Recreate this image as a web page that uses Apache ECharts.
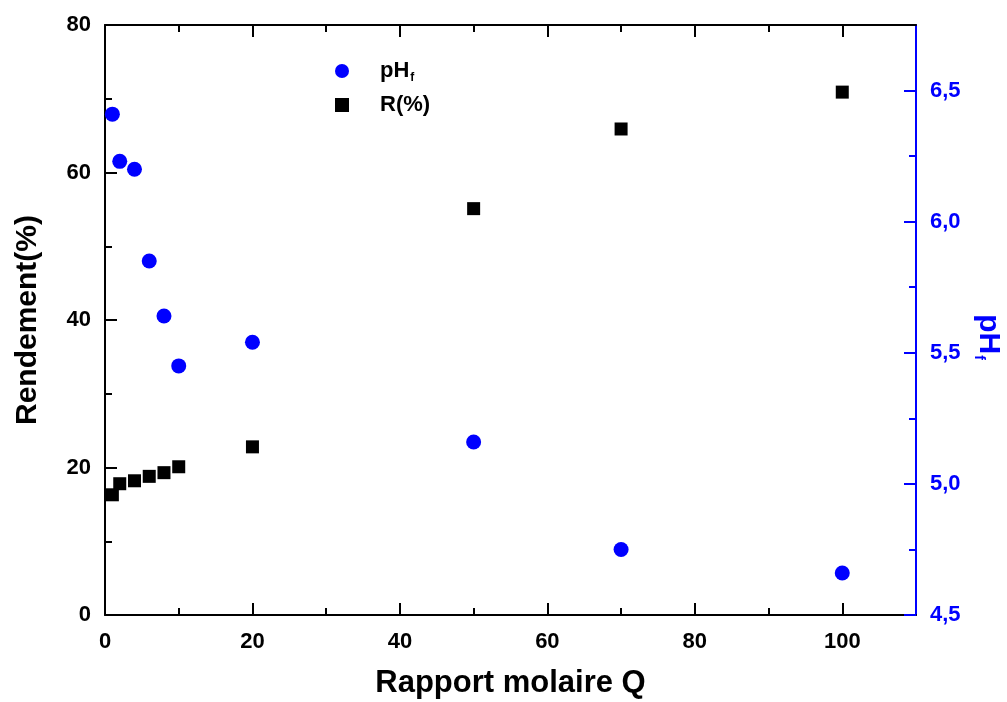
<!DOCTYPE html>
<html>
<head>
<meta charset="utf-8">
<script src="https://cdn.jsdelivr.net/npm/echarts@6/dist/echarts.min.js"></script>
<style>html,body{margin:0;padding:0;background:#fff;}#chart{width:1007px;height:702px;}</style>
</head>
<body>
<div id="chart"></div>
<script>
const qValues = [1, 2, 4, 6, 8, 10, 20, 50, 70, 100];
const phValues = [6.41, 6.23, 6.20, 5.85, 5.64, 5.45, 5.54, 5.16, 4.75, 4.66];
const rValues = [16.3, 17.8, 18.2, 18.8, 19.3, 20.1, 22.8, 55.1, 65.9, 70.9];

const xMajorTicks = [0, 20, 40, 60, 80, 100];
const xMinorTicks = [10, 30, 50, 70, 90];
const yLeftMajorTicks = [0, 20, 40, 60, 80];
const yLeftMinorTicks = [10, 30, 50, 70];
const yRightMajorTicks = [4.5, 5.0, 5.5, 6.0, 6.5];
const yRightMinorTicks = [4.75, 5.25, 5.75, 6.25];

const FONT = 'Liberation Sans, Arial, sans-serif';
const BLUE = '#0000ff';

const chart = echarts.init(document.getElementById('chart'), null, {renderer: 'canvas'});

function mkX(position, ticks, len, showLine, showLabel, extra) {
  return Object.assign({
    type: 'value', gridIndex: 0, position: position, offset: 0,
    min: 0, max: 110,
    axisLine: {show: showLine, onZero: false, lineStyle: {color: '#000', width: 2}},
    axisTick: {show: true, inside: true, length: len, customValues: ticks, lineStyle: {color: '#000', width: 2}},
    axisLabel: {show: showLabel, customValues: xMajorTicks, margin: 16, color: '#000', fontSize: 22, fontWeight: 'bold', fontFamily: FONT},
    splitLine: {show: false}
  }, extra || {});
}
function mkY(position, min, max, ticks, labelTicks, len, color, showLine, showLabel, fmt, extra) {
  return Object.assign({
    type: 'value', gridIndex: 0, position: position, offset: 0,
    min: min, max: max,
    axisLine: {show: showLine, onZero: false, lineStyle: {color: color, width: 2}},
    axisTick: {show: true, inside: true, length: len, customValues: ticks, lineStyle: {color: color, width: 2}},
    axisLabel: {show: showLabel, customValues: labelTicks, margin: 14, color: color, fontSize: 22, fontWeight: 'bold', fontFamily: FONT, formatter: fmt},
    splitLine: {show: false}
  }, extra || {});
}

const option = {
  animation: false,
  backgroundColor: '#fff',
  grid: {left: 105, right: 91, top: 25, bottom: 87, containLabel: false, outerBoundsMode: 'none'},
  legend: {
    orient: 'vertical', left: 330, top: 55,
    itemWidth: 14, itemHeight: 14, itemGap: 10,
    data: ['pH', 'R(%)'],
    formatter: function (n) { return n === 'pH' ? '{a|pH}{b|f}' : '{a|R(%)}'; },
    textStyle: {
      fontSize: 22, fontWeight: 'bold', fontFamily: FONT, color: '#000', padding: [0, 0, 0, 26],
      rich: {
        a: {fontSize: 22, fontWeight: 'bold', fontFamily: FONT, color: '#000'},
        b: {fontSize: 12, fontWeight: 'bold', fontFamily: FONT, color: '#000', verticalAlign: 'bottom', padding: [0, 0, -2, 1]}
      }
    }
  },
  xAxis: [
    mkX('bottom', xMajorTicks, 12, true, true, {
      name: 'Rapport molaire Q', nameLocation: 'middle', nameGap: 53,
      nameTextStyle: {fontSize: 31, fontWeight: 'bold', fontFamily: FONT, color: '#000'}
    }),
    mkX('bottom', xMinorTicks, 7, false, false),
    mkX('top', xMajorTicks, 12, true, false),
    mkX('top', xMinorTicks, 7, false, false)
  ],
  yAxis: [
    mkY('left', 0, 80, yLeftMajorTicks, yLeftMajorTicks, 12, '#000', true, true, function (v) { return String(v); }, {
      name: 'Rendement(%)', nameLocation: 'middle', nameGap: 62,
      nameTextStyle: {fontSize: 30, fontWeight: 'bold', fontFamily: FONT, color: '#000'}
    }),
    mkY('left', 0, 80, yLeftMinorTicks, yLeftMajorTicks, 7, '#000', false, false, null),
    mkY('right', 4.5, 6.75, yRightMajorTicks, yRightMajorTicks, 12, BLUE, true, true, function (v) { return v.toFixed(1).replace('.', ','); }, {
      name: '{a|pH}{b|f}', nameLocation: 'middle', nameGap: 50, nameRotate: -90,
      nameTextStyle: {
        fontSize: 30, fontWeight: 'bold', fontFamily: FONT, color: BLUE, padding: [0, 0, 0, 34],
        rich: {
          a: {fontSize: 30, fontWeight: 'bold', fontFamily: FONT, color: BLUE},
          b: {fontSize: 14, fontWeight: 'bold', fontFamily: FONT, color: BLUE, verticalAlign: 'bottom', padding: [0, 0, -2, 1]}
        }
      }
    }),
    mkY('right', 4.5, 6.75, yRightMinorTicks, yRightMajorTicks, 7, BLUE, false, false, null)
  ],
  series: [
    {
      name: 'pH', type: 'scatter', xAxisIndex: 0, yAxisIndex: 2,
      symbol: 'circle', symbolSize: 15,
      itemStyle: {color: BLUE, opacity: 1},
      data: qValues.map((q, i) => [q, phValues[i]])
    },
    {
      name: 'R(%)', type: 'scatter', xAxisIndex: 0, yAxisIndex: 0,
      symbol: 'rect', symbolSize: 13,
      itemStyle: {color: '#000', opacity: 1},
      data: qValues.map((q, i) => [q, rValues[i]])
    }
  ]
};
chart.setOption(option);
</script>
</body>
</html>
